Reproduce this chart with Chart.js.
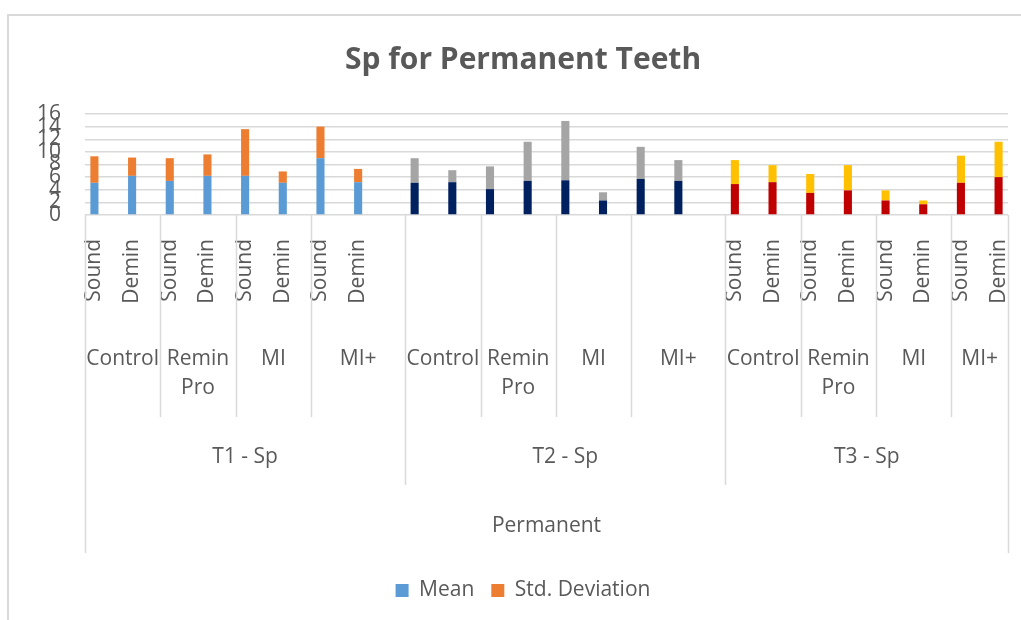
<!DOCTYPE html>
<html>
<head>
<meta charset="utf-8">
<script src="https://cdn.jsdelivr.net/npm/chart.js@4.4.1/dist/chart.umd.min.js"></script>
<style>
    html, body { margin: 0; padding: 0; background: #fff; overflow: hidden; }
    #cadre { position: absolute; left: 7px; top: 14px; width: 1100px; height: 700px; border: 2px solid #d9d9d9; }
    #zone { position: absolute; left: 0; top: 0; width: 1021px; height: 620px; }
</style>
</head>
<body>
<div id="cadre"></div>
<div id="zone"><canvas id="chartjs"></canvas></div>
<script>
// Catégories (axe à plusieurs niveaux)
const groupes = ['T1 - Sp', 'T2 - Sp', 'T3 - Sp'];
const traitements = ['Control', 'Remin Pro', 'MI', 'MI+'];
const surfaces = ['Sound', 'Demin'];
const surfacesAffichees = [true, false, true]; // T2 n'a pas de libellé Sound/Demin
const titreAxe = 'Permanent';

// Valeurs : Control S/D, Remin Pro S/D, MI S/D, MI+ S/D
const moyT1 = [5.1, 6.2, 5.4, 6.2, 6.2, 5.1, 9.0, 5.2];
const sdT1 = [4.2, 2.9, 3.6, 3.4, 7.4, 1.8, 5.0, 2.1];
const moyT2 = [5.1, 5.2, 4.1, 5.4, 5.5, 2.3, 5.7, 5.4];
const sdT2 = [3.9, 1.9, 3.6, 6.2, 9.4, 1.3, 5.1, 3.3];
const moyT3 = [4.9, 5.2, 3.5, 3.9, 2.3, 1.7, 5.1, 6.0];
const sdT3 = [3.8, 2.7, 3.0, 4.0, 1.6, 0.6, 4.3, 5.6];

// Graduations de l'axe Y
const yMin = 0, yMax = 16, yPas = 2;

// Couleurs par groupe
const couleursMoy = ['#5b9bd5', '#002060', '#c00000'];
const couleursSd = ['#ed7d31', '#a5a5a5', '#ffc000'];
const gris = '#595959';
const police = "'Open Sans', sans-serif";
const taille = 21;

// Construit les cases de l'axe X (une case vide entre chaque barre, deux entre les groupes)
const moyennes = [moyT1, moyT2, moyT3];
const ecarts = [sdT1, sdT2, sdT3];
const cases = [];
groupes.forEach((g, gi) => {
    traitements.forEach((t, ti) => {
        surfaces.forEach((s, si) => {
            const k = ti * surfaces.length + si;
            cases.push({ groupe: gi, traitement: ti, label: surfacesAffichees[gi] ? s : '', moy: moyennes[gi][k], sd: ecarts[gi][k] });
            const dernier = gi === groupes.length - 1 && k === moyennes[gi].length - 1;
            if (!dernier) cases.push({ groupe: gi, traitement: ti, label: '', moy: null, sd: null });
        });
    });
    if (gi < groupes.length - 1) cases.push({ groupe: gi, traitement: traitements.length - 1, label: '', moy: null, sd: null });
});

// Premier et dernier indice d'un ensemble de cases
function etendue(test) {
    let a = -1, b = -1;
    cases.forEach((c, i) => { if (test(c)) { if (a < 0) a = i; b = i; } });
    return [a, b + 1];
}

// Dessine les niveaux de l'axe X : séparateurs et libellés
const niveaux = {
    id: 'niveaux',
    afterDraw(chart) {
        const ctx = chart.ctx;
        const x = chart.scales.x;
        const base = chart.chartArea.bottom;
        const demi = (x.getPixelForValue(1) - x.getPixelForValue(0)) / 2;
        const bord = i => x.getPixelForValue(i) - demi;

        ctx.save();
        ctx.strokeStyle = '#d9d9d9';
        ctx.lineWidth = 1.5;
        const trait = (px, h) => {
            ctx.beginPath();
            ctx.moveTo(Math.round(px) + 0.5, base);
            ctx.lineTo(Math.round(px) + 0.5, base + h);
            ctx.stroke();
        };

        ctx.fillStyle = gris;
        ctx.font = taille + 'px ' + police;
        ctx.textAlign = 'center';
        ctx.textBaseline = 'middle';

        groupes.forEach((g, gi) => {
            const [ga, gb] = etendue(c => c.groupe === gi);
            if (gi > 0) trait(bord(ga), 270);
            traitements.forEach((t, ti) => {
                const [a, b] = etendue(c => c.groupe === gi && c.traitement === ti);
                if (ti > 0) trait(bord(a), 202);
                // retour à la ligne si le texte est trop large
                const larg = bord(b) - bord(a);
                const cx = (bord(a) + bord(b)) / 2;
                const lignes = ctx.measureText(t).width > larg - 2 ? t.split(' ') : [t];
                lignes.forEach((l, li) => ctx.fillText(l, cx, base + 144 + li * 29));
            });
            ctx.fillText(g, (bord(ga) + bord(gb)) / 2, base + 242);
        });
        trait(bord(0), 338);
        trait(bord(cases.length), 338);
        ctx.fillText(titreAxe, (bord(0) + bord(cases.length)) / 2, base + 311);
        ctx.restore();
    }
};

const canvas = document.getElementById('chartjs');
new Chart(canvas, {
    type: 'bar',
    data: {
        labels: cases.map(c => c.label),
        datasets: [
            {
                label: 'Mean',
                data: cases.map(c => c.moy),
                backgroundColor: ctx => ctx.type === 'data' ? couleursMoy[cases[ctx.dataIndex].groupe] : couleursMoy[0],
            },
            {
                label: 'Std. Deviation',
                data: cases.map(c => c.sd),
                backgroundColor: ctx => ctx.type === 'data' ? couleursSd[cases[ctx.dataIndex].groupe] : couleursSd[0],
            },
        ],
    },
    options: {
        responsive: true,
        maintainAspectRatio: false,
        animation: false,
        layout: { padding: { left: 38, right: 13, top: 0, bottom: 9 } },
        datasets: { bar: { categoryPercentage: 1, barPercentage: 0.43 } },
        plugins: {
            title: {
                display: true,
                text: 'Sp for Permanent Teeth',
                color: gris,
                font: { family: police, size: 30, weight: 'bold' },
                padding: { top: 42, bottom: 36 },
            },
            legend: {
                position: 'bottom',
                labels: {
                    color: gris,
                    boxWidth: 13,
                    boxHeight: 13,
                    padding: 17,
                    font: { family: police, size: taille },
                },
            },
            tooltip: { enabled: false },
        },
        scales: {
            x: {
                stacked: true,
                grid: { display: false },
                border: { display: false },
                ticks: {
                    autoSkip: false,
                    minRotation: 90,
                    maxRotation: 90,
                    padding: 16,
                    color: gris,
                    font: { family: police, size: taille },
                },
                afterFit: scale => {
                    scale.height = 348;
                    scale.paddingLeft = 0;
                    scale.paddingRight = 0;
                },
            },
            y: {
                stacked: true,
                min: yMin,
                max: yMax,
                border: { display: false },
                grid: { color: '#d9d9d9', lineWidth: 1.5, drawTicks: false },
                ticks: {
                    stepSize: yPas,
                    autoSkip: false,
                    padding: 24,
                    color: gris,
                    font: { family: police, size: taille },
                },
                afterFit: scale => { scale.width = 47; },
            },
        },
    },
    plugins: [niveaux],
});
</script>
</body>
</html>
